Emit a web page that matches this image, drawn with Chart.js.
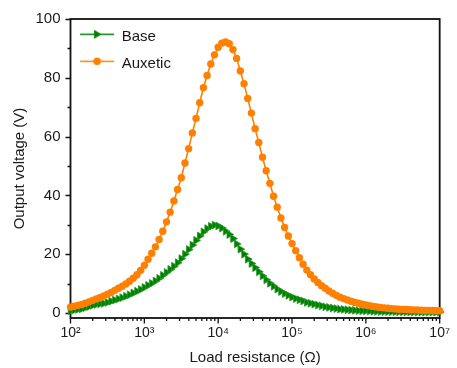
<!DOCTYPE html>
<html><head><meta charset="utf-8">
<script src="https://cdn.jsdelivr.net/npm/chart.js@4/dist/chart.umd.min.js"></script>
<style>html,body{margin:0;padding:0;background:#fff;}</style>
</head><body>
<canvas id="c" width="457" height="368"></canvas>
<script>
// log10 of load resistance (Ohm) for each measured point
const logR = [
  2.00,2.05,2.10,2.15,2.20,2.25,2.30,2.35,2.40,2.45,
  2.50,2.55,2.60,2.65,2.70,2.75,2.80,2.85,2.90,2.95,
  3.00,3.05,3.10,3.15,3.20,3.25,3.30,3.35,3.40,3.45,
  3.50,3.55,3.60,3.65,3.70,3.75,3.80,3.85,3.90,3.95,
  4.00,4.05,4.10,4.15,4.20,4.25,4.30,4.35,4.40,4.45,
  4.50,4.55,4.60,4.65,4.70,4.75,4.80,4.85,4.90,4.95,
  5.00,5.05,5.10,5.15,5.20,5.25,5.30,5.35,5.40,5.45,
  5.50,5.55,5.60,5.65,5.70,5.75,5.80,5.85,5.90,5.95,
  6.00,6.05,6.10,6.15,6.20,6.25,6.30,6.35,6.40,6.45,
  6.50,6.55,6.60,6.65,6.70,6.75,6.80,6.85,6.90,6.95,
  7.00
];
const baseV = [
  0.8,1.0,1.2,1.4,1.8,2.2,2.6,2.9,3.1,3.3,
  3.6,4.0,4.4,4.8,5.2,5.7,6.2,6.8,7.4,8.0,
  8.7,9.4,10.1,10.9,11.8,12.8,13.8,14.8,15.9,17.1,
  18.5,20.0,21.6,23.1,24.7,26.2,27.6,28.7,29.5,29.9,
  29.6,28.9,27.8,26.7,25.3,23.5,21.7,20.0,18.3,16.8,
  15.4,14.0,12.6,11.3,10.1,9.1,8.1,7.3,6.6,6.0,
  5.4,4.9,4.5,4.1,3.6,3.3,3.0,2.7,2.4,2.1,
  1.9,1.7,1.5,1.3,1.2,1.1,1.0,0.9,0.8,0.75,
  0.7,0.65,0.6,0.55,0.5,0.48,0.46,0.44,0.42,0.4,
  0.38,0.36,0.35,0.34,0.33,0.32,0.31,0.3,0.3,0.3,
  0.3
];
const auxeticV = [
  2.0,2.3,2.6,2.9,3.3,3.8,4.3,4.8,5.3,5.8,
  6.4,7.0,7.7,8.4,9.1,9.9,10.8,11.8,13.0,14.5,
  16.2,18.3,20.3,22.5,25.0,27.8,31.0,34.3,38.1,42.0,
  46.0,51.0,55.9,61.2,66.2,71.5,76.6,80.8,84.7,87.8,
  90.4,91.8,92.2,91.6,89.6,86.6,82.3,78.0,73.0,68.0,
  62.7,58.0,53.0,48.4,44.1,39.7,36.0,32.3,29.1,26.2,
  23.6,21.2,18.8,16.6,14.6,13.0,11.6,10.4,9.3,8.4,
  7.5,6.7,6.0,5.4,4.9,4.4,4.0,3.6,3.3,3.0,
  2.7,2.45,2.25,2.05,1.9,1.75,1.6,1.5,1.4,1.3,
  1.25,1.2,1.1,1.05,1.0,0.95,0.9,0.9,0.85,0.8,
  0.8
];
const seriesNames = ['Base', 'Auxetic'];
const xMajorTicks = [1e2, 1e3, 1e4, 1e5, 1e6, 1e7];
const xTickLabels = ['10²', '10³', '10⁴', '10⁵', '10⁶', '10⁷'];
const yMajorTicks = [0, 20, 40, 60, 80, 100];
const yMinorTicks = [10, 30, 50, 70, 90];
const xTitle = 'Load resistance (Ω)';
const yTitle = 'Output voltage (V)';

const GREEN = '#008000', ORANGE = '#FF8000', INK = '#1a1a1a';
const FONT = '"Liberation Sans", Arial, sans-serif';

const resistance = logR.map(e => Math.pow(10, e));
const toPts = vals => vals.map((v, i) => ({x: resistance[i], y: v}));

function legendSymbol(color, kind) {
  const c = document.createElement('canvas');
  c.width = 36; c.height = 14;
  const g = c.getContext('2d');
  const cy = 4.5;
  g.strokeStyle = color; g.fillStyle = color; g.lineWidth = 1.5;
  g.beginPath(); g.moveTo(1, cy); g.lineTo(35, cy); g.stroke();
  g.beginPath();
  if (kind === 'tri') {
    g.moveTo(22.5, cy); g.lineTo(15, cy - 4.5); g.lineTo(15, cy + 4.5); g.closePath();
  } else {
    g.arc(18, cy, 3.8, 0, Math.PI * 2);
  }
  g.fill();
  return c;
}
const legendIcons = [legendSymbol(GREEN, 'tri'), legendSymbol(ORANGE, 'dot')];

const framePlugin = {
  id: 'frameTicks',
  beforeDraw(chart) {
    if (chart.legend) { chart.legend.left = 68; chart.legend.top = 17.3; }
  },
  beforeDatasetsDraw(chart) {
    const {ctx, chartArea: a, scales: {x, y}} = chart;
    ctx.save();
    ctx.strokeStyle = '#111';
    ctx.lineWidth = 1.8;
    ctx.strokeRect(a.left, a.top, a.right - a.left, a.bottom - a.top);
    ctx.lineWidth = 1.3;
    ctx.beginPath();
    yMajorTicks.forEach(v => { const p = Math.round(y.getPixelForValue(v)) + 0.5; ctx.moveTo(a.left - 5, p); ctx.lineTo(a.left, p); });
    yMinorTicks.forEach(v => { const p = Math.round(y.getPixelForValue(v)) + 0.5; ctx.moveTo(a.left - 3, p); ctx.lineTo(a.left, p); });
    xMajorTicks.forEach(v => { const p = x.getPixelForValue(v); ctx.moveTo(p, a.bottom); ctx.lineTo(p, a.bottom + 5.5); });
    xMajorTicks.slice(0, -1).forEach(d => {
      for (let k = 2; k <= 9; k++) { const p = x.getPixelForValue(d * k); ctx.moveTo(p, a.bottom); ctx.lineTo(p, a.bottom + 3); }
    });
    ctx.stroke();
    ctx.restore();
  }
};

new Chart(document.getElementById('c'), {
  type: 'line',
  data: {
    datasets: [
      { label: seriesNames[0], data: toPts(baseV), borderColor: GREEN, backgroundColor: GREEN,
        borderWidth: 1.5, pointStyle: 'triangle', rotation: 90, pointRadius: 4.5, pointBorderWidth: 0.8,
        pointBorderColor: '#2a9a2a', pointBackgroundColor: GREEN, tension: 0, clip: false, order: 1 },
      { label: seriesNames[1], data: toPts(auxeticV), borderColor: ORANGE, backgroundColor: ORANGE,
        borderWidth: 1.6, pointStyle: 'circle', pointRadius: 3.7, pointBorderWidth: 0,
        pointBackgroundColor: ORANGE, tension: 0, clip: false, order: 0 }
    ]
  },
  options: {
    responsive: false,
    animation: false,
    devicePixelRatio: 1,
    layout: { padding: { top: 15, right: 11.7, left: 0, bottom: 0 } },
    plugins: {
      tooltip: { enabled: false },
      legend: {
        position: 'chartArea',
        align: 'start',
        labels: {
          usePointStyle: true,
          pointStyleWidth: 34.2,
          padding: 12,
          color: INK,
          font: { family: FONT, size: 15 },
          generateLabels: (chart) => chart.data.datasets.map((ds, i) => ({
            text: ds.label, datasetIndex: i, pointStyle: legendIcons[i],
            fillStyle: ds.borderColor, strokeStyle: ds.borderColor, lineWidth: 0,
            hidden: false, fontColor: INK
          }))
        }
      }
    },
    scales: {
      x: {
        type: 'logarithmic', min: 1e2, max: 1e7,
        grid: { display: false, drawTicks: false },
        border: { display: false },
        afterBuildTicks: s => { s.ticks = xMajorTicks.map(v => ({ value: v, major: true })); },
        afterFit: s => { s.height = 50; },
        ticks: { autoSkip: false, maxRotation: 0, padding: 7, color: INK,
                 font: { family: FONT, size: 14 },
                 callback: (v, i) => xTickLabels[i] },
        title: { display: true, text: xTitle, color: INK, font: { family: FONT, size: 15 },
                 padding: { top: 0, bottom: 1 } }
      },
      y: {
        type: 'linear', min: -1.7, max: 100,
        grid: { display: false, drawTicks: false },
        border: { display: false },
        afterBuildTicks: s => { s.ticks = yMajorTicks.map(v => ({ value: v })); },
        afterFit: s => { s.width = 70.5; },
        ticks: { padding: 10, color: INK, font: { family: FONT, size: 15 } },
        title: { display: true, text: yTitle, color: INK, font: { family: FONT, size: 15 },
                 padding: { top: 11, bottom: 0 } }
      }
    }
  },
  plugins: [framePlugin]
});
</script>
</body></html>
